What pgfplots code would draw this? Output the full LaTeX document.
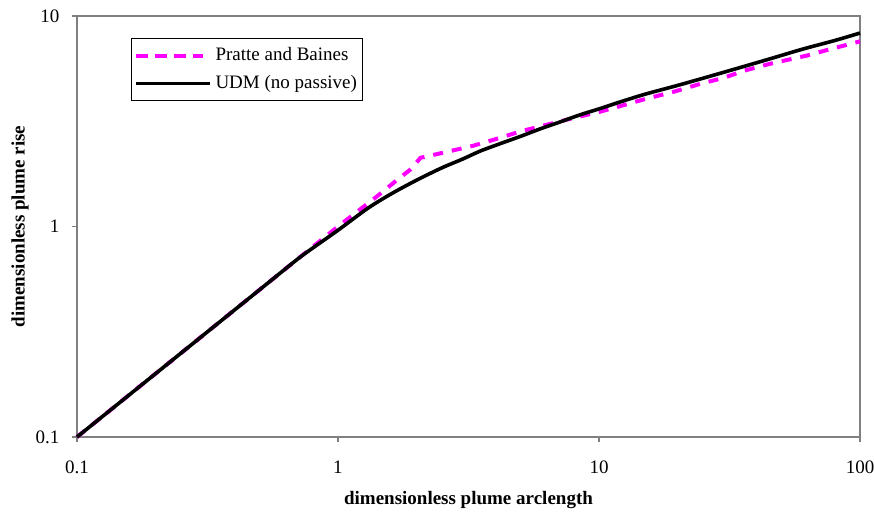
\documentclass[border=0pt]{standalone}
\usepackage{fontspec}
\setmainfont{Liberation Serif}
\usepackage{pgfplots}
\pgfplotsset{compat=1.18}
\definecolor{axgray}{RGB}{128,128,128}
\definecolor{pmag}{RGB}{255,0,255}
\begin{document}
\fontsize{9.5}{11}\selectfont
\begin{tikzpicture}
\path[use as bounding box] (-38.5pt,-39pt) rectangle (398.5pt,218.5pt);
\begin{axis}[
 scale only axis, width=391.5pt, height=210.5pt,
 xmode=log, ymode=log, xmin=0.1, xmax=100, ymin=0.1, ymax=10,
 xtick={0.1,1,10,100}, xticklabels={0.1,1,10,100},
 ytick={0.1,1,10}, yticklabels={0.1,1,10},
 xminorticks=false, yminorticks=false,
 /pgf/number format/assume math mode=true,
 tick pos=left, tick align=outside, major tick length=2.5pt,
 every tick/.style={axgray, line width=0.6pt},
 axis line style={axgray, line width=0.8pt},
 ticklabel style={font=\fontsize{9.5}{11}\selectfont},
 label style={font=\fontsize{9.5}{11}\selectfont\bfseries},
 xticklabel style={yshift=-6pt},
 yticklabel style={xshift=-3pt},
 xlabel={dimensionless plume arclength},
 ylabel={dimensionless plume rise},
 xlabel style={at={(axis description cs:0.5,-0.1496)}, anchor=center},
 ylabel style={at={(axis description cs:-0.0728,0.5)}, anchor=center},
 clip=false,
 legend style={at={(axis description cs:0.069,0.9477)}, anchor=north west, draw=black, line width=0.5pt, font=\fontsize{9.5}{11}\selectfont, inner xsep=1pt, inner ysep=2.5pt, row sep=2pt},
 legend cell align=left,
 legend image code/.code={\draw[#1] (1pt,0pt) -- (33.5pt,0pt); \path (0pt,0pt) -- (37pt,0pt);},
]
\addplot[pmag, line width=2pt, dash pattern=on 5pt off 4.5pt] coordinates {
(0.1,0.1) (0.5,0.5) (1,1.0) (1.4,1.38) (1.7,1.68) (1.9,1.87) (2.07,2.12) (2.6,2.26) (3.3,2.42) (4.1,2.62) (5,2.83) (8,3.28) (10,3.5) (12.5,3.78) (15,4.03) (19.5,4.38) (25,4.8) (30,5.08) (36,5.5) (45,5.92) (63,6.5) (75,6.9) (100,7.58)
};
\addlegendentry{Pratte and Baines}
\addplot[black, line width=1.8pt, smooth] coordinates {
(0.1,0.1) (0.3,0.3) (0.5,0.5) (0.7,0.7) (0.8,0.79) (1,0.96) (1.3,1.22) (1.6,1.43) (2,1.66) (2.5,1.9) (3,2.09) (3.5,2.28) (4.2,2.48) (5,2.68) (6,2.92) (7,3.12) (8.5,3.4) (10,3.62) (12,3.9) (15,4.25) (20.5,4.72) (30,5.4) (45,6.25) (60,6.95) (80,7.65) (100,8.3)
};
\addlegendentry{UDM (no passive)}
\end{axis}
\end{tikzpicture}
\end{document}
